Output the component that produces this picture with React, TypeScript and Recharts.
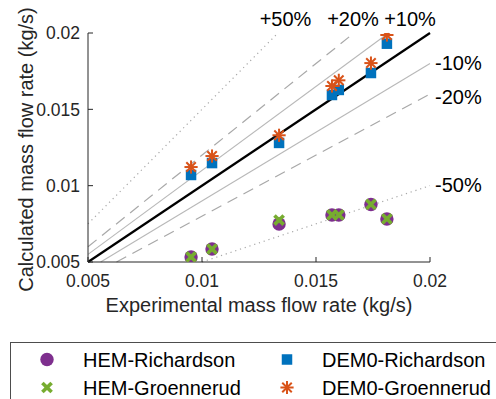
import React from 'react';
import { ScatterChart, Scatter, XAxis, YAxis, ReferenceLine } from 'recharts';

// ---- data ----
const experimentalFlow = [0.00952, 0.01044, 0.01338, 0.0157, 0.016, 0.01741, 0.01811];
const hemRichardson = [0.00533, 0.00585, 0.00749, 0.00808, 0.00808, 0.00877, 0.00782];
const hemGroennerud = [0.00533, 0.00585, 0.00775, 0.00808, 0.00808, 0.00877, 0.00782];
const dem0Richardson = [0.0107, 0.01148, 0.0128, 0.01594, 0.01627, 0.01738, 0.0193];
const dem0Groennerud = [0.01122, 0.01194, 0.0133, 0.01653, 0.0169, 0.01803, 0.01987];

const axisTicks = [0.005, 0.01, 0.015, 0.02];
const axisDomain: [number, number] = [0.005, 0.02];

const deviationRatios = [1.5, 1.2, 1.1, 1.0, 0.9, 0.8, 0.5];
const deviationLabels = ['+50%', '+20%', '+10%', '', '-10%', '-20%', '-50%'];

// ---- styles ----
const FONT = '"Liberation Sans", Arial, Helvetica, sans-serif';
const AXIS_COLOR = '#262626';
const C_PURPLE = '#7E2F8E';
const C_GREEN = '#77AC30';
const C_BLUE = '#0072BD';
const C_ORANGE = '#D95319';

const lineStyles: Record<string, { stroke: string; width: number; dash?: string; dx: number; dy: number }> = {
  '1.5': { stroke: '#a8a8a8', width: 1.2, dash: '1.2 3.8', dx: 7.5, dy: 0 },
  '1.2': { stroke: '#a8a8a8', width: 1.2, dash: '11 7', dx: -1, dy: 0 },
  '1.1': { stroke: '#b8b8b8', width: 1.1, dx: 21.5, dy: 0 },
  '1': { stroke: '#000000', width: 2.2, dx: 0, dy: 0 },
  '0.9': { stroke: '#b8b8b8', width: 1.1, dx: 5, dy: -1 },
  '0.8': { stroke: '#a8a8a8', width: 1.2, dash: '11 7', dx: 5, dy: 3 },
  '0.5': { stroke: '#a8a8a8', width: 1.2, dash: '1.2 3.8', dx: 5, dy: -1 },
};

type MarkerKind = 'circle' | 'x' | 'square' | 'star';

const Marker = ({ kind, cx, cy }: { kind: MarkerKind; cx: number; cy: number }) => {
  if (kind === 'circle') return <circle cx={cx} cy={cy} r={6.7} fill={C_PURPLE} />;
  if (kind === 'x') {
    const a = 4.6;
    return (
      <g stroke={C_GREEN} strokeWidth={3.6} strokeLinecap="butt">
        <line x1={cx - a} y1={cy - a} x2={cx + a} y2={cy + a} />
        <line x1={cx - a} y1={cy + a} x2={cx + a} y2={cy - a} />
      </g>
    );
  }
  if (kind === 'square') {
    const s = 10.5;
    return <rect x={cx - s / 2} y={cy - s / 2} width={s} height={s} fill={C_BLUE} />;
  }
  const r = 6.6;
  const d = r * 0.72;
  return (
    <g stroke={C_ORANGE} strokeWidth={2}>
      <line x1={cx - r} y1={cy} x2={cx + r} y2={cy} />
      <line x1={cx} y1={cy - r} x2={cx} y2={cy + r} />
      <line x1={cx - d} y1={cy - d} x2={cx + d} y2={cy + d} />
      <line x1={cx - d} y1={cy + d} x2={cx + d} y2={cy - d} />
    </g>
  );
};

const series: { name: string; values: number[]; kind: MarkerKind }[] = [
  { name: 'HEM-Richardson', values: hemRichardson, kind: 'circle' },
  { name: 'HEM-Groennerud', values: hemGroennerud, kind: 'x' },
  { name: 'DEM0-Richardson', values: dem0Richardson, kind: 'square' },
  { name: 'DEM0-Groennerud', values: dem0Groennerud, kind: 'star' },
];

const legendLayout = [
  { mx: 47, tx: 83, cy: 359.5, by: 366.5 },
  { mx: 47, tx: 83, cy: 387.5, by: 394.5 },
  { mx: 287, tx: 322, cy: 359.5, by: 366.5 },
  { mx: 287, tx: 322, cy: 387.5, by: 394.5 },
];

export default function App() {
  const [lo, hi] = axisDomain;
  return (
    <div style={{ position: 'absolute', left: 0, top: 0, width: 496, height: 399, overflow: 'hidden', background: '#fff' }}>
      <ScatterChart width={496} height={399} margin={{ top: 33, right: 66, bottom: 77, left: 0 }}>
        <XAxis
          type="number"
          dataKey="x"
          domain={axisDomain}
          allowDataOverflow
          ticks={axisTicks}
          tickFormatter={(v: number) => String(v)}
          height={60}
          stroke={AXIS_COLOR}
          tickSize={-5}
          tickMargin={17.6}
          tick={{ fontSize: 17.5, fill: AXIS_COLOR, fontFamily: FONT }}
          label={{
            content: (p: any) => {
              const vb = p.viewBox || {};
              return (
                <text x={vb.x + vb.width / 2} y={312} textAnchor="middle" fontSize={20} fontFamily={FONT} fill={AXIS_COLOR}>
                  Experimental mass flow rate (kg/s)
                </text>
              );
            },
          }}
        />
        <XAxis
          xAxisId="top"
          orientation="top"
          type="number"
          domain={axisDomain}
          allowDataOverflow
          ticks={axisTicks}
          tickFormatter={() => ''}
          height={0}
          stroke={AXIS_COLOR}
          tickSize={-5}
        />
        <YAxis
          type="number"
          dataKey="y"
          domain={axisDomain}
          allowDataOverflow
          ticks={axisTicks}
          tickFormatter={(v: number) => String(v)}
          width={88}
          stroke={AXIS_COLOR}
          tickSize={-5}
          tickMargin={13}
          tick={{ fontSize: 17.5, fill: AXIS_COLOR, fontFamily: FONT }}
          label={{
            content: (p: any) => {
              const vb = p.viewBox || {};
              const cy = vb.y + vb.height / 2 + 2;
              return (
                <text
                  x={26}
                  y={cy}
                  transform={`rotate(-90, 26, ${cy})`}
                  textAnchor="middle"
                  dominantBaseline="central"
                  fontSize={20}
                  fontFamily={FONT}
                  fill={AXIS_COLOR}
                >
                  Calculated mass flow rate (kg/s)
                </text>
              );
            },
          }}
        />
        <YAxis
          yAxisId="right"
          orientation="right"
          type="number"
          domain={axisDomain}
          allowDataOverflow
          ticks={axisTicks}
          tickFormatter={() => ''}
          width={0}
          stroke={AXIS_COLOR}
          tickSize={-5}
        />
        {deviationRatios.map((r, i) => {
          const st = lineStyles[String(r)];
          const x0 = Math.max(lo, lo / r);
          const x1 = Math.min(hi, hi / r);
          const text = deviationLabels[i];
          return (
            <ReferenceLine
              key={r}
              segment={[
                { x: x0, y: r * x0 },
                { x: x1, y: r * x1 },
              ]}
              ifOverflow="visible"
              stroke={st.stroke}
              strokeWidth={st.width}
              strokeDasharray={st.dash}
              label={
                text
                  ? {
                      content: (p: any) => {
                        const vb = p.viewBox || {};
                        const ex = vb.x + vb.width;
                        const ey = vb.y;
                        if (r > 1) {
                          return (
                            <text x={ex + st.dx} y={ey - 7} textAnchor="middle" fontSize={20} fontFamily={FONT} fill="#000">
                              {text}
                            </text>
                          );
                        }
                        return (
                          <text x={ex + st.dx} y={ey + st.dy} textAnchor="start" dominantBaseline="central" fontSize={20} fontFamily={FONT} fill="#000">
                            {text}
                          </text>
                        );
                      },
                    }
                  : undefined
              }
            />
          );
        })}
        {series.map((s) => (
          <Scatter
            key={s.name}
            name={s.name}
            data={experimentalFlow.map((x, i) => ({ x, y: s.values[i] }))}
            isAnimationActive={false}
            shape={(p: any) => <Marker kind={s.kind} cx={p.cx} cy={p.cy} />}
          />
        ))}
      </ScatterChart>
      <svg width={496} height={399} style={{ position: 'absolute', left: 0, top: 0, pointerEvents: 'none' }}>
        <rect x={10.5} y={342.5} width={500} height={100} fill="none" stroke="#4d4d4d" strokeWidth={1} />
        {series.map((s, i) => {
          const L = legendLayout[i];
          return (
            <g key={s.name}>
              <Marker kind={s.kind} cx={L.mx} cy={L.cy} />
              <text x={L.tx} y={L.by} fontSize={20} fontFamily={FONT} fill="#000">
                {s.name}
              </text>
            </g>
          );
        })}
      </svg>
    </div>
  );
}
